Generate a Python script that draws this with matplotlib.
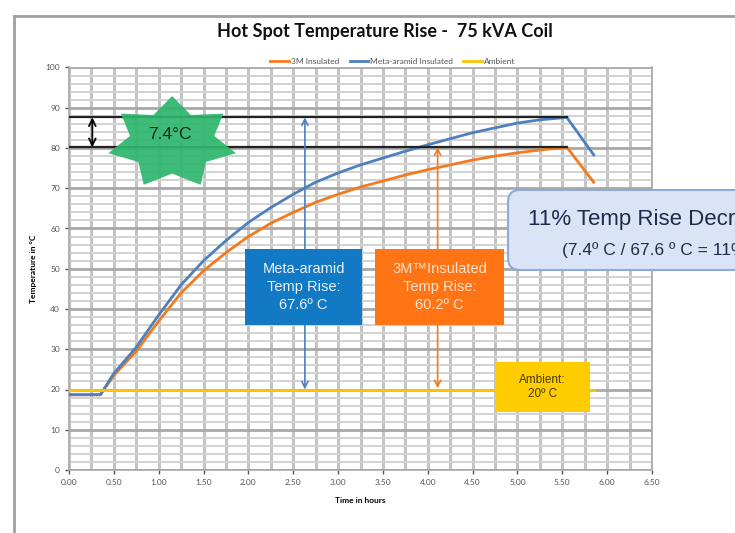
import numpy as np
import matplotlib.pyplot as plt
from matplotlib.patches import Rectangle, FancyBboxPatch, Polygon
from matplotlib.lines import Line2D

plt.rcParams['font.family'] = ['Lato', 'DejaVu Sans']

# data
hours = [0.0, 0.35, 0.5, 0.75, 1.0, 1.25, 1.5, 1.75, 2.0, 2.25, 2.5, 2.75,
         3.0, 3.25, 3.5, 3.75, 4.0, 4.25, 4.5, 4.75, 5.0, 5.25, 5.55, 5.85]
meta_aramid = [18.7, 18.7, 24.0, 30.5, 38.5, 46.0, 52.0, 57.0, 61.5, 65.2, 68.5, 71.5,
               73.8, 75.8, 77.5, 79.2, 80.8, 82.3, 83.8, 85.0, 86.2, 87.0, 87.6, 78.3]
insulated_3m = [18.7, 18.7, 23.5, 29.5, 37.0, 44.0, 49.5, 54.0, 58.0, 61.3, 64.0, 66.5,
                68.5, 70.3, 71.8, 73.3, 74.6, 75.8, 77.0, 78.0, 78.8, 79.5, 80.2, 71.5]
ambient_hours = [0.0, 0.5, 1.0, 1.5, 2.0, 2.5, 3.0, 3.5, 4.0, 4.5, 5.0, 5.5, 5.85]
ambient = [20.0, 20.0, 20.0, 20.0, 20.0, 20.0, 20.0, 20.0, 20.0, 20.0, 20.0, 20.0, 20.0]

peak_meta = 87.6
peak_3m = 80.2
peak_time = 5.55
rise_meta = 67.6
rise_3m = 60.2
diff = 7.4

c_orange = '#F47A20'
c_blue = '#4D80BC'
c_yellow = '#FFC000'
arial = ['Liberation Sans', 'DejaVu Sans']

fig = plt.figure(figsize=(7.35, 5.33), dpi=100)
ax = fig.add_axes([69 / 735, 1 - 470 / 533, (652 - 69) / 735, (470 - 67.5) / 533])

# grid
ax.set_xlim(0, 6.5)
ax.set_ylim(0, 100)
ax.set_xticks(np.arange(0, 6.51, 0.5))
ax.set_xticks(np.arange(0, 6.51, 0.25), minor=True)
ax.set_yticks(np.arange(0, 101, 10))
ax.set_yticks(np.arange(0, 101, 2), minor=True)
ax.set_xticklabels(['%.2f' % v for v in np.arange(0, 6.51, 0.5)])
ax.grid(which='major', axis='y', color='#A8A8A8', lw=2.0, zorder=0)
ax.grid(which='minor', axis='y', color='#D2D2D2', lw=1.4, zorder=0)
ax.grid(which='both', axis='x', color='#C4C4C4', lw=2.2, zorder=0)
ax.set_axisbelow(True)
ax.tick_params(which='major', labelsize=6, colors='#555555', length=3, width=1, direction='out')
ax.tick_params(which='minor', length=0)
for s in ax.spines.values():
    s.set_color('#A8A8A8')
    s.set_linewidth(1.2)

# series
ax.plot(hours, insulated_3m, color=c_orange, lw=2.0, zorder=3, label='3M Insulated')
ax.plot(hours, meta_aramid, color=c_blue, lw=2.0, zorder=3, label='Meta-aramid Insulated')
ax.plot(ambient_hours, ambient, color=c_yellow, lw=2.2, zorder=3, label='Ambient')

# peak reference lines
ax.plot([0, peak_time], [peak_meta, peak_meta], color='#222222', lw=1.6, zorder=4)
ax.plot([0, peak_time], [peak_3m, peak_3m], color='#222222', lw=1.6, zorder=4)
ax.annotate('', xy=(0.26, peak_meta), xytext=(0.26, peak_3m),
            arrowprops=dict(arrowstyle='<->', color='black', lw=1.3,
                            shrinkA=0, shrinkB=0, mutation_scale=12), zorder=5)

# 7 point star
cx, cy = 1.15, 81.3
rx, ry = 0.73, 11.6
ang = np.pi / 2 + np.arange(14) * np.pi / 7
rad = np.where(np.arange(14) % 2 == 0, 1.0, 0.66)
star = Polygon(np.column_stack([cx + rx * rad * np.cos(ang), cy + ry * rad * np.sin(ang)]),
               closed=True, facecolor='#2DB66C', edgecolor='none', alpha=0.92, zorder=6)
ax.add_patch(star)
ax.text(cx - 0.02, cy + 2.0, '%.1f°C' % diff, ha='center', va='center', fontsize=12.5,
        color='#1a2a1a', family=arial, zorder=7)

# vertical rise arrows
ax.annotate('', xy=(2.63, peak_meta), xytext=(2.63, 20.0),
            arrowprops=dict(arrowstyle='<->', color=c_blue, lw=1.2,
                            shrinkA=0, shrinkB=0, mutation_scale=11), zorder=5)
ax.annotate('', xy=(4.11, peak_3m), xytext=(4.11, 20.3),
            arrowprops=dict(arrowstyle='<->', color=c_orange, lw=1.2,
                            shrinkA=0, shrinkB=0, mutation_scale=11), zorder=5)

# label boxes
ax.add_patch(Rectangle((1.96, 36.0), 1.31, 18.8, facecolor='#1279C4', edgecolor='none', zorder=8))
ax.text(2.615, 45.4, 'Meta-aramid\nTemp Rise:\n%.1fº C' % rise_meta, ha='center', va='center',
        fontsize=10.5, color='#EAF2FA', linespacing=1.35, family=arial, zorder=9)
ax.add_patch(Rectangle((3.41, 36.0), 1.44, 18.8, facecolor='#FF7415', edgecolor='none', zorder=8))
ax.text(4.13, 45.4, '3M™Insulated\nTemp Rise:\n%.1fº C' % rise_3m, ha='center', va='center',
        fontsize=10.5, color='#FCE3CC', linespacing=1.35, family=arial, zorder=9)
ax.add_patch(Rectangle((4.75, 14.4), 1.06, 12.4, facecolor='#FFCC00', edgecolor='none', zorder=8))
ax.text(5.28, 20.6, 'Ambient:\n20º C', ha='center', va='center', fontsize=8.5,
        color='#4A3A00', linespacing=1.3, family=arial, zorder=9)

# callout box (runs past the right edge, as in the original slide)
callout = FancyBboxPatch((508 / 100, (533 - 270) / 100), 3.0, 0.8,
                         boxstyle='round,pad=0,rounding_size=0.12',
                         transform=fig.dpi_scale_trans, facecolor='#DAE4F6',
                         edgecolor='#8FA9D8', lw=1.5, zorder=10)
fig.patches.append(callout)
fig.text(528 / 735, 1 - 220 / 533, '11% Temp Rise Decrease', fontsize=16,
         color='#1E2B4A', va='center', ha='left', family=arial, zorder=11)
fig.text(562 / 735, 1 - 250 / 533, '(%.1fº C / %.1f º C = 11%%)' % (diff, rise_meta),
         fontsize=12.5, color='#1E2B4A', va='center', ha='left', family=arial, zorder=11)

# titles
fig.text(385 / 735, 1 - 32 / 533, 'Hot Spot Temperature Rise -  75 kVA Coil',
         ha='center', va='center', fontsize=13, fontweight='bold', color='#111111')
ax.set_xlabel('Time in hours', fontsize=6, fontweight='bold', labelpad=8)
ax.set_ylabel('Temperature in °C', fontsize=6, fontweight='bold', labelpad=6)
fig.legend(handles=[Line2D([], [], color=c_orange, lw=2), Line2D([], [], color=c_blue, lw=2),
                    Line2D([], [], color=c_yellow, lw=2)],
           labels=['3M Insulated', 'Meta-aramid Insulated', 'Ambient'],
           loc='center', bbox_to_anchor=(393 / 735, 1 - 61 / 533), ncol=3, frameon=False,
           fontsize=6, handlelength=2.2, columnspacing=1.2, handletextpad=0.3,
           labelcolor='#555555')

# outer chart frame
fig.add_artist(Line2D([14 / 735, 14 / 735], [0, 1 - 16 / 533], color='#A0A0A0', lw=2,
                      transform=fig.transFigure))
fig.add_artist(Line2D([14 / 735, 1], [1 - 16 / 533, 1 - 16 / 533], color='#A0A0A0', lw=2,
                      transform=fig.transFigure))

fig.savefig('out.png', dpi=100)
